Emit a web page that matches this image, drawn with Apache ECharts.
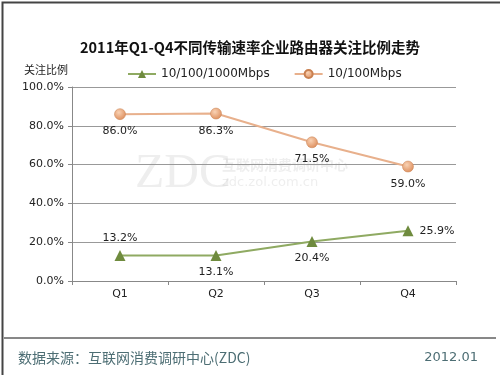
<!DOCTYPE html>
<html>
<head>
<meta charset="utf-8">
<script src="https://cdn.jsdelivr.net/npm/echarts@6/dist/echarts.min.js"></script>
<style>
  html,body{margin:0;padding:0;background:#fff;}
  #chart{width:500px;height:375px;}
</style>
</head>
<body>
<div id="chart"></div>
<script>
// 数据
var quarters = ['Q1', 'Q2', 'Q3', 'Q4']
var gigabit = [13.2, 13.1, 20.4, 25.9]   // 10/100/1000Mbps
var fast = [86.0, 86.3, 71.5, 59.0]      // 10/100Mbps
var gigabitLabelPos = ['top', 'bottom', 'bottom', 'right']

var font = '"DejaVu Sans", "Noto Sans CJK SC", sans-serif'
var cjk = '"Noto Sans CJK SC", sans-serif'

var myChart = echarts.init(document.getElementById('chart'))
var option = {
  animation: false,
  backgroundColor: '#fff',
  textStyle: { fontFamily: font },
  title: {
    text: '2011年Q1-Q4不同传输速率企业路由器关注比例走势',
    left: 'center',
    top: 35,
    textStyle: { fontFamily: cjk, fontSize: 14.5, fontWeight: 'bold', color: '#111' }
  },
  legend: {
    top: 63,
    left: 122,
    itemGap: 24,
    itemWidth: 28,
    itemHeight: 10,
    textStyle: { fontSize: 12, color: '#222' },
    data: ['10/100/1000Mbps', '10/100Mbps']
  },
  grid: { left: 72, right: 44, top: 87, bottom: 94 },
  xAxis: {
    type: 'category',
    data: quarters,
    boundaryGap: true,
    axisLine: { lineStyle: { color: '#888' } },
    axisTick: { show: true, interval: 0, length: 4, lineStyle: { color: '#888' } },
    axisLabel: { color: '#222', fontSize: 11, margin: 8 }
  },
  yAxis: {
    type: 'value',
    min: 0,
    max: 100,
    interval: 20,
    name: '关注比例',
    nameLocation: 'end',
    nameGap: 12,
    nameTextStyle: { fontFamily: cjk, color: '#222', fontSize: 11, align: 'right', padding: [0, 4, 0, 0] },
    axisLine: { show: true, lineStyle: { color: '#888' } },
    axisTick: { show: true, length: 4, lineStyle: { color: '#888' } },
    splitLine: { lineStyle: { color: '#999' } },
    axisLabel: {
      color: '#222', fontSize: 11, margin: 8,
      formatter: function (v) { return v.toFixed(1) + '%' }
    }
  },
  graphic: [
    { type: 'rect', left: 0, top: 0, shape: { width: 499, height: 374 }, style: { fill: 'none', stroke: '#444', lineWidth: 2 } },
    { type: 'line', shape: { x1: 4, y1: 338, x2: 496, y2: 338 }, style: { stroke: '#111', lineWidth: 1 } },
    { type: 'text', left: 18, top: 351, style: { text: '数据来源：互联网消费调研中心(ZDC)', fill: '#4d6e74', font: '14px ' + cjk } },
    { type: 'text', right: 22, top: 351, style: { text: '2012.01', fill: '#4d6e74', font: '13px ' + font } },
    // 水印
    { type: 'text', left: 135, top: 150, z: 0, style: { text: 'ZDC', fill: 'rgba(200,200,200,0.3)', font: '48px "Liberation Serif", serif' } },
    { type: 'text', left: 222, top: 158, z: 0, style: { text: '互联网消费调研中心', fill: 'rgba(200,200,200,0.3)', font: 'bold 14px ' + cjk } },
    { type: 'text', left: 222, top: 176, z: 0, style: { text: 'zdc.zol.com.cn', fill: 'rgba(200,200,200,0.3)', font: '13px ' + font } }
  ],
  series: [
    {
      name: '10/100/1000Mbps',
      type: 'line',
      symbol: 'triangle',
      symbolSize: 11,
      lineStyle: { color: '#8faa62', width: 2 },
      itemStyle: { color: '#6f8b3e' },
      data: gigabit.map(function (v, i) {
        return { value: v, label: { position: gigabitLabelPos[i] } }
      }),
      label: {
        show: true, color: '#222', fontSize: 11, distance: 6,
        formatter: function (p) { return p.value.toFixed(1) + '%' }
      }
    },
    {
      name: '10/100Mbps',
      type: 'line',
      symbol: 'circle',
      symbolSize: 11,
      lineStyle: { color: '#e8b08c', width: 2 },
      itemStyle: {
        color: new echarts.graphic.RadialGradient(0.4, 0.35, 0.7, [
          { offset: 0, color: '#f9d2b4' },
          { offset: 1, color: '#dc8c5a' }
        ]),
        borderColor: '#c98050', borderWidth: 0.5
      },
      data: fast,
      label: {
        show: true, position: 'bottom', color: '#222', fontSize: 11, distance: 6,
        formatter: function (p) { return p.value.toFixed(1) + '%' }
      }
    }
  ]
}
myChart.setOption(option)
</script>
</body>
</html>
